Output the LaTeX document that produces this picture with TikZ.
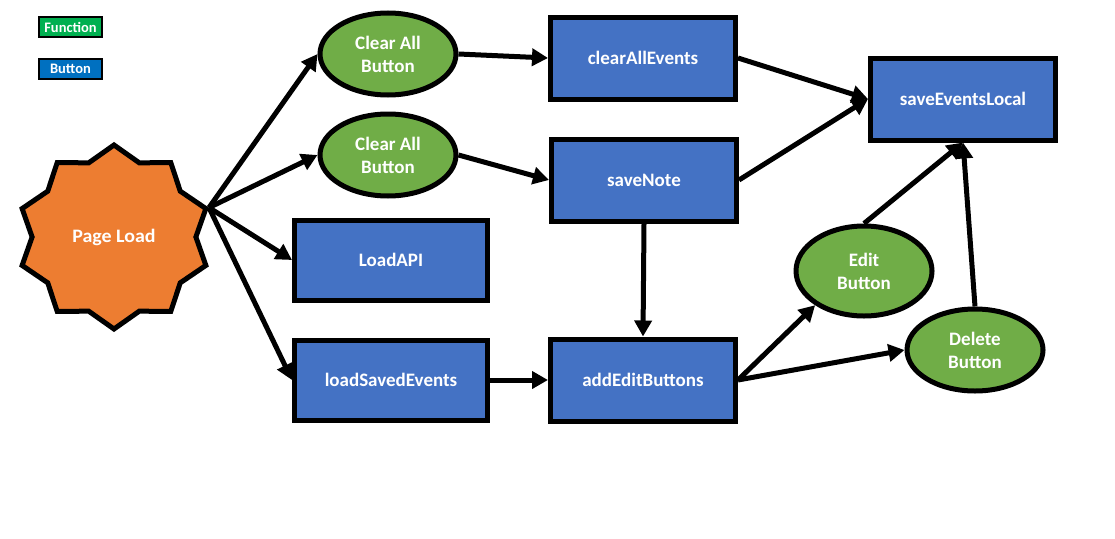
\documentclass[tikz,border=0pt]{standalone}
\usepackage{fontspec}
\setmainfont{Carlito}
\usetikzlibrary{shapes.geometric,arrows.meta}
\definecolor{fblue}{HTML}{4472C4}
\definecolor{bgreen}{HTML}{70AD47}
\definecolor{porange}{HTML}{ED7D31}
\definecolor{lgreen}{HTML}{00B050}
\definecolor{lblue}{HTML}{0070C0}
\begin{document}
\begin{tikzpicture}[x=1pt,y=-1pt,
  mainfont/.style={font=\bfseries\fontsize{19}{23}\selectfont},
  fnbox/.style={rectangle, draw=black, fill=fblue, line width=5pt, text=white,
    minimum width=185pt, minimum height=82pt, inner sep=0pt, mainfont},
  btnell/.style={ellipse, draw=black, fill=bgreen, line width=5pt, text=white,
    minimum width=136pt, minimum height=82pt, inner sep=0pt, align=center, mainfont},
  legbox/.style={rectangle, draw=black, line width=2pt, text=white,
    minimum width=63pt, minimum height=20pt, inner sep=0pt,
    font=\bfseries\fontsize{14.5}{16}\selectfont},
  arr/.style={-{Triangle[length=16pt,width=17pt]}, line width=5pt, draw=black}]
\useasboundingbox (0,0) rectangle (1115,538);
% legend
\node[legbox, fill=lgreen] (legf) at (70.5,27) {Function};
\node[legbox, fill=lblue] (legb) at (70.5,69) {Button};
% star
\begin{scope}[shift={(114,237)}, xscale=1.05]
\node[star, star points=10, star point ratio=1.18, minimum size=184pt, inner sep=0pt,
  draw=black, fill=porange, line width=5pt, text=white, mainfont, transform shape] (pl) at (0,0) {Page Load};
\end{scope}
\coordinate (hub) at (pl.18);
% buttons
\node[btnell] (ca1) at (388,54) {Clear All\\Button};
\node[btnell] (ca2) at (388,155) {Clear All\\Button};
\node[btnell, minimum height=90pt] (eb) at (864,271) {Edit\\Button};
\node[btnell] (db) at (975,350) {Delete\\Button};
% functions
\node[fnbox] (cae) at (643,58) {clearAllEvents};
\node[fnbox] (sn) at (644,180) {saveNote};
\node[fnbox] (sel) at (963,99) {saveEventsLocal};
\node[fnbox, minimum width=193pt, minimum height=80pt] (lapi) at (391,260) {LoadAPI};
\node[fnbox, minimum width=193pt, minimum height=80pt] (lse) at (391,380) {loadSavedEvents};
\node[fnbox] (aeb) at (643,380) {addEditButtons};
% connectors
\draw[arr] (hub) -- (ca1.west);
\draw[arr] (hub) -- (ca2.west);
\draw[arr] (hub) -- (lapi.west);
\draw[arr] (hub) -- (lse.west);
\draw[arr] (ca1.east) -- (cae.west);
\draw[arr] (ca2.east) -- (sn.west);
\draw[arr] (cae.east) -- (sel.west);
\draw[arr] (sn.east) -- (sel.west);
\draw[arr] (sn.south) -- (aeb.north);
\draw[arr] (lse.east) -- (aeb.west);
\draw[arr] (aeb.east) -- (eb.215);
\draw[arr] (aeb.east) -- (db.west);
\draw[arr] (eb.north) -- (sel.south);
\draw[arr] (db.north) -- (sel.south);
\end{tikzpicture}
\end{document}
